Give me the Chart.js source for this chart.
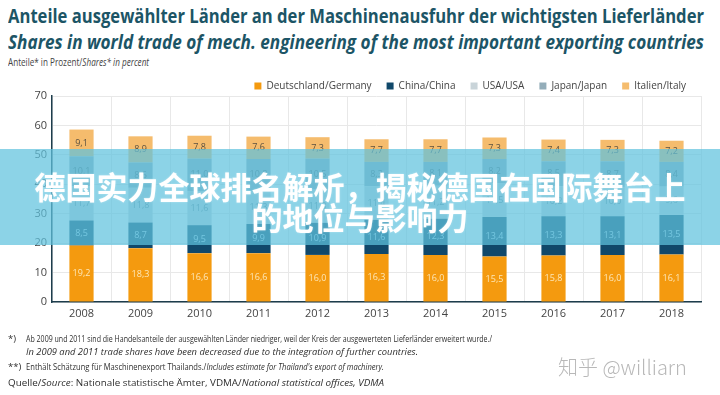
<!DOCTYPE html>
<html>
<head>
<meta charset="utf-8">
<script src="https://cdn.jsdelivr.net/npm/chart.js@4.4.1/dist/chart.umd.min.js"></script>
<style>
  body { margin: 0; background: #fff; width: 720px; height: 395px; overflow: hidden; position: relative; font-family: "Open Sans", sans-serif; }
  .t { position: absolute; left: 8px; white-space: nowrap; display: inline-block; transform-origin: 0 0; }
  #t1 { top: 2px; font-size: 20px; font-weight: 700; color: #1c5566; }
  #t2 { top: 28px; font-size: 20px; font-weight: 700; font-style: italic; color: #1c5566; }
  #t3 { top: 55px; font-size: 10px; color: #444; }
  #wrap { position: absolute; left: 0; top: 0; width: 720px; height: 395px; }
  .fn { position: absolute; white-space: nowrap; font-size: 9.5px; color: #2e2e2e; display: inline-block; transform-origin: 0 0; }
  #banner { position: absolute; left: 0; top: 149px; width: 720px; height: 96px; background: rgba(96,194,222,0.72); }
  .bt { position: absolute; width: 720px; text-align: center; color: #fff; font-family: "Noto Sans CJK SC", sans-serif; font-weight: 700; font-size: 31px; line-height: 31px; text-shadow: 0 0 2px rgba(255,255,255,0.4); }
  #wm { position: absolute; left: 558px; top: 352px; font-size: 20px; color: #b8b8b8; font-family: "Noto Sans CJK SC", sans-serif; font-weight: 300; }
</style>
</head>
<body>
<div id="t1" class="t" data-w="696">Anteile ausgewählter Länder an der Maschinenausfuhr der wichtigsten Lieferländer</div>
<div id="t2" class="t" data-w="696">Shares in world trade of mech. engineering of the most important exporting countries</div>
<div id="t3" class="t" data-w="141">Anteile* in Prozent/<i>Shares* in percent</i></div>
<div id="wrap"><canvas id="chart" width="720" height="395"></canvas></div>

<div class="fn" style="left:8px;top:332px">*)</div>
<div class="fn" style="left:26px;top:332px" data-w="466">Ab 2009 und 2011 sind die Handelsanteile der ausgewählten Länder niedriger, weil der Kreis der ausgewerteten Lieferländer erweitert wurde./</div>
<div class="fn" style="left:26px;top:345px" data-w="392"><i>In 2009 and 2011 trade shares have been decreased due to the integration of further countries.</i></div>
<div class="fn" style="left:8px;top:360px">**)</div>
<div class="fn" style="left:26px;top:360px" data-w="358">Enthält Schätzung für Maschinenexport Thailands./<i>Includes estimate for Thailand's export of machinery.</i></div>
<div class="fn" style="left:8px;top:376px" data-w="376">Quelle/<i>Source</i>: Nationale statistische Ämter, VDMA/<i>National statistical offices, VDMA</i></div>
<div id="wm">知乎 @williarn</div>

<div id="banner">
  <div class="bt" style="top:21px">德国实力全球排名解析，揭秘德国在国际舞台上</div>
  <div class="bt" style="top:52px">的地位与影响力</div>
</div>

<script>
const years = ['2008', '2009', '2010', '2011', '2012', '2013', '2014', '2015', '2016', '2017', '2018'];
const germany = [19.2, 18.3, 16.6, 16.6, 16.0, 16.3, 16.0, 15.5, 15.8, 16.0, 16.1];
const china = [8.5, 8.7, 9.5, 9.9, 10.9, 11.6, 12.3, 13.4, 13.3, 13.1, 13.5];
const usa = [11.7, 11.8, 11.6, 11.3, 11.3, 11.4, 11.2, 11.5, 10.2, 10.0, 9.6];
const japan = [10.1, 8.6, 11.0, 10.8, 10.5, 8.3, 8.1, 8.2, 8.5, 8.7, 8.4];
const italy = [9.1, 8.9, 7.8, 7.6, 7.3, 7.7, 7.7, 7.3, 7.4, 7.3, 7.2];
const yTicks = [0, 10, 20, 30, 40, 50, 60, 70];

// fit html text to the widths measured on the picture
document.querySelectorAll('[data-w]').forEach(el => {
  const w = el.getBoundingClientRect().width;
  el.style.transform = 'scaleX(' + (el.dataset.w / w) + ')';
});

const valueLabels = {
  id: 'valueLabels',
  afterDatasetsDraw(chart) {
    const ctx = chart.ctx;
    ctx.save();
    ctx.font = '9px "Open Sans"';
    ctx.textAlign = 'center';
    ctx.textBaseline = 'middle';
    chart.data.datasets.forEach((ds, i) => {
      chart.getDatasetMeta(i).data.forEach((bar, j) => {
        const p = bar.getProps(['x', 'y', 'base'], true);
        ctx.fillStyle = ds.labelColor;
        ctx.fillText(ds.data[j].toFixed(1).replace('.', ','), p.x, (p.y + p.base) / 2);
      });
    });
    ctx.restore();
  }
};

const legendHeight = {
  id: 'legendHeight',
  beforeInit(chart) {
    const fit = chart.legend.fit;
    chart.legend.fit = function () {
      fit.call(this);
      this.height = 30;
    };
  }
};

const ctx = document.getElementById('chart').getContext('2d');
const sharesChart = new Chart(ctx, {
  type: 'bar',
  data: {
    labels: years,
    datasets: [
      { label: 'Deutschland/Germany', data: germany, backgroundColor: '#f49a0f', labelColor: '#fde7b8' },
      { label: 'China/China', data: china, backgroundColor: '#10486a', labelColor: '#a9d3e6' },
      { label: 'USA/USA', data: usa, backgroundColor: '#c9d4d9', labelColor: '#6d8c9a' },
      { label: 'Japan/Japan', data: japan, backgroundColor: '#93adb9', labelColor: '#4f6772' },
      { label: 'Italien/Italy', data: italy, backgroundColor: '#f5bc6d', labelColor: '#5a5040' }
    ]
  },
  options: {
    responsive: false,
    animation: false,
    layout: { padding: { left: 0, right: 19, top: 66, bottom: 71 } },
    datasets: { bar: { barPercentage: 0.82, categoryPercentage: 0.5 } },
    plugins: {
      legend: {
        align: 'end',
        labels: {
          boxWidth: 7, boxHeight: 7, padding: 15,
          color: '#444',
          font: { family: 'Open Sans', size: 10 }
        }
      },
      tooltip: { enabled: false }
    },
    scales: {
      x: {
        stacked: true,
        afterFit: s => { s.height = 22; },
        grid: { color: '#e8e8e8', offset: true, drawTicks: false },
        border: { color: '#1d3d4c', width: 1.5 },
        ticks: { color: '#444', padding: 5, font: { family: 'Open Sans', size: 11 } }
      },
      y: {
        stacked: true,
        min: 0, max: 70,
        afterFit: s => { s.width = 52; },
        afterBuildTicks: s => { s.ticks = yTicks.map(v => ({ value: v })); },
        grid: { color: '#e8e8e8', drawTicks: false },
        border: { color: '#1d3d4c', width: 1.5 },
        ticks: { color: '#444', padding: 5, font: { family: 'Open Sans', size: 11 } }
      }
    }
  },
  plugins: [valueLabels, legendHeight]
});
</script>
</body>
</html>
